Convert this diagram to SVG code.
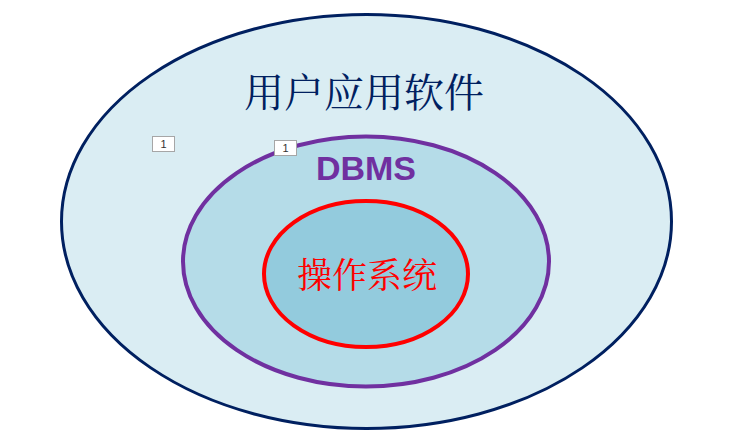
<svg xmlns="http://www.w3.org/2000/svg" width="749" height="437" viewBox="0 0 749 437">
<style>
.lbl{fill:#fff;stroke:#a6a6a6;stroke-width:1}
.lt{font-family:"Liberation Sans",Arial,sans-serif;font-size:11px;fill:#333;text-anchor:middle}
.cjk{font-family:"Noto Serif CJK SC","Noto Sans CJK SC",serif;text-anchor:middle}
</style>
<rect width="749" height="437" fill="#fff"/>
<g id="outer">
<ellipse cx="366.5" cy="221.5" rx="305" ry="207" fill="#daedf3" stroke="#002060" stroke-width="3"/>
<text class="cjk" x="364" y="107" font-size="40" fill="#002060">用户应用软件</text>
</g>
<g id="dbms">
<ellipse cx="366" cy="261.5" rx="183" ry="125" fill="#b5dce8" stroke="#7030a0" stroke-width="4"/>
<text x="366" y="180" font-family="Liberation Sans,Arial,sans-serif" font-weight="bold" font-size="34" fill="#7030a0" text-anchor="middle">DBMS</text>
</g>
<g id="os">
<ellipse cx="366" cy="274" rx="102" ry="73" fill="#93cbdd" stroke="#ff0000" stroke-width="4"/>
<text class="cjk" x="367" y="288" font-size="35" fill="#ff0000">操作系统</text>
</g>
<g id="label1">
<rect class="lbl" x="152.5" y="136.5" width="22" height="15"/>
<text class="lt" x="163.5" y="148">1</text>
</g>
<g id="label2">
<rect class="lbl" x="274.5" y="140.5" width="22" height="15"/>
<text class="lt" x="285.5" y="152">1</text>
</g>
</svg>
